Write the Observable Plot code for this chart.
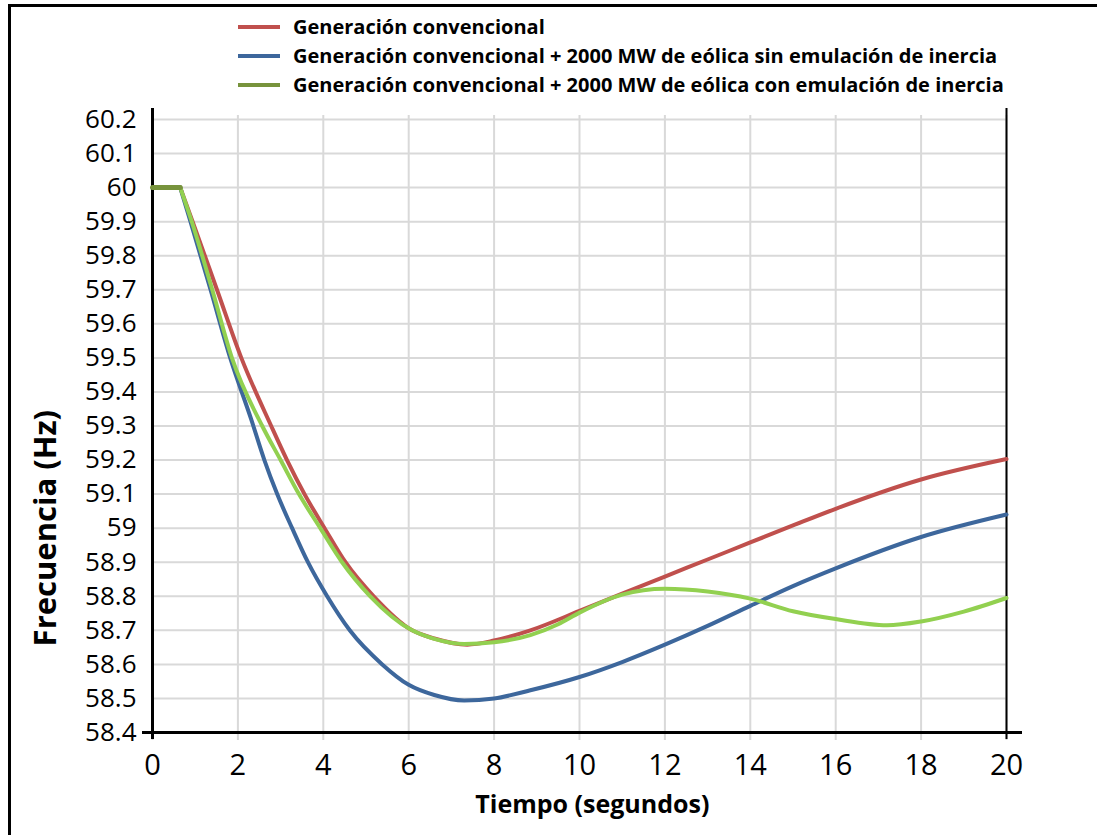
<!DOCTYPE html>
<html>
<head>
<meta charset="utf-8">
<script src="https://cdn.jsdelivr.net/npm/d3@7"></script>
<script src="https://cdn.jsdelivr.net/npm/@observablehq/plot@0.6"></script>
<style>
  html, body { margin: 0; padding: 0; background: #fff; }
  #page { position: relative; width: 1097px; height: 835px; overflow: hidden; background: #fff; }
  #frame { position: absolute; left: 8px; top: 4px; width: 1200px; height: 900px; border-left: 3px solid #000; border-top: 3px solid #000; }
  #legend { position: absolute; left: 238px; top: 12px; font-family: "Open Sans", sans-serif; font-weight: bold; font-size: 20px; color: #000; }
  .row { height: 29px; display: flex; align-items: center; white-space: nowrap; }
  .sw { width: 42px; height: 4px; margin-right: 13px; }
  #chart { position: absolute; left: 0; top: 100px; }
</style>
</head>
<body>
<div id="page">
  <div id="frame"></div>
  <div id="legend"></div>
  <div id="chart"></div>
</div>
<script>
// ---- data ----
const seriesNames = [
  "Generación convencional",
  "Generación convencional + 2000 MW de eólica sin emulación de inercia",
  "Generación convencional + 2000 MW de eólica con emulación de inercia"
];
const lineColors = ["#c0504d", "#3d679c", "#92d050"];
const swatchColors = ["#c0504d", "#3d679c", "#77933c"];

const redT = [0, 0.65, 0.94, 1.51, 2.08, 2.78, 3.15, 3.56, 4.03, 4.52, 5.18, 6.08, 6.6, 7.37, 8, 8.85, 10, 11, 12, 13, 14, 15, 16, 18, 20];
const redF = [60, 60, 59.9, 59.7, 59.5, 59.3, 59.2, 59.1, 59.0, 58.9, 58.8, 58.7, 58.676, 58.658, 58.67, 58.70, 58.757, 58.808, 58.858, 58.908, 58.958, 59.008, 59.057, 59.143, 59.203];

const blueT = [0, 0.65, 0.89, 1.36, 1.82, 2.31, 2.62, 2.92, 3.27, 3.64, 4.09, 4.62, 5.38, 6, 6.6, 7.3, 8, 8.85, 10, 11, 12, 13, 14, 15, 16, 18, 20];
const blueF = [60, 60, 59.9, 59.7, 59.5, 59.32, 59.2, 59.1, 59.0, 58.9, 58.8, 58.7, 58.6, 58.54, 58.51, 58.494, 58.50, 58.524, 58.563, 58.607, 58.658, 58.713, 58.772, 58.830, 58.882, 58.974, 59.04];

const greenT = [0, 0.65, 0.92, 1.40, 1.86, 2.57, 3.0, 3.43, 3.93, 4.44, 5.1, 6.08, 6.6, 7.3, 8, 8.85, 9.5, 10, 11, 12, 13, 14, 15, 16, 17.2, 18, 19, 20];
const greenF = [60, 60, 59.9, 59.7, 59.5, 59.3, 59.2, 59.1, 59.0, 58.9, 58.8, 58.7, 58.675, 58.66, 58.665, 58.686, 58.718, 58.752, 58.805, 58.822, 58.814, 58.793, 58.756, 58.733, 58.715, 58.726, 58.755, 58.795];

const xTicks = [0, 2, 4, 6, 8, 10, 12, 14, 16, 18, 20];
const yTicks = [58.4, 58.5, 58.6, 58.7, 58.8, 58.9, 59, 59.1, 59.2, 59.3, 59.4, 59.5, 59.6, 59.7, 59.8, 59.9, 60, 60.1, 60.2];
const xLabel = "Tiempo (segundos)";
const yLabel = "Frecuencia (Hz)";
const flatEnd = 0.65;

// ---- build tables ----
function toRows(ts, fs, s) { return ts.map((t, i) => ({t, f: fs[i], s})); }
const allSeries = [toRows(redT, redF, 0), toRows(blueT, blueF, 1), toRows(greenT, greenF, 2)];
const dropRows = allSeries.map(rows => rows.filter(d => d.t >= flatEnd));
const flatRows = allSeries[2].filter(d => d.t <= flatEnd);

// ---- legend ----
const legend = document.getElementById("legend");
seriesNames.forEach((name, i) => {
  const row = document.createElement("div");
  row.className = "row";
  const sw = document.createElement("div");
  sw.className = "sw";
  sw.style.background = swatchColors[i];
  const tx = document.createElement("span");
  tx.textContent = name;
  row.appendChild(sw); row.appendChild(tx);
  legend.appendChild(row);
});

// ---- chart ----
const chart = Plot.plot({
  width: 1097,
  height: 735,
  marginLeft: 152,
  marginRight: 91,
  marginTop: 19,
  marginBottom: 103,
  style: { fontFamily: "Open Sans, sans-serif", color: "#000", background: "transparent" },
  x: { domain: [0, 20] },
  y: { domain: [58.4, 60.2] },
  marks: [
    Plot.ruleX(xTicks, { stroke: "#d9d9d9", strokeWidth: 2, insetTop: -4, insetBottom: -8 }),
    Plot.ruleY(yTicks, { stroke: "#d9d9d9", strokeWidth: 2, insetRight: 0 }),
    Plot.axisX(xTicks, { tickSize: 0, tickPadding: 22, fontSize: 29, fill: "#000", label: null }),
    Plot.axisY(yTicks, { tickSize: 0, tickPadding: 16, fontSize: 26, fill: "#000", label: null,
      tickFormat: d => String(+d.toFixed(1)) }),
    Plot.ruleX([0], { stroke: "#000", strokeWidth: 3, insetTop: -11, insetBottom: -7 }),
    Plot.ruleX([20], { stroke: "#000", strokeWidth: 2, insetTop: -11, insetBottom: -7 }),
    Plot.ruleY([58.4], { stroke: "#000", strokeWidth: 3, insetLeft: -10, insetRight: -16 }),
    Plot.line(dropRows[0], { x: "t", y: "f", stroke: lineColors[0], strokeWidth: 4, curve: "monotone-x" }),
    Plot.line(dropRows[1], { x: "t", y: "f", stroke: lineColors[1], strokeWidth: 4, curve: "monotone-x" }),
    Plot.line(dropRows[2], { x: "t", y: "f", stroke: lineColors[2], strokeWidth: 4, curve: "monotone-x" }),
    Plot.line(flatRows, { x: "t", y: "f", stroke: swatchColors[2], strokeWidth: 5 }),
    Plot.text([xLabel], { x: () => 10.3, y: () => 58.4, dy: 72, fontSize: 25, fontWeight: "bold", fill: "#000" }),
    Plot.text([yLabel], { x: () => -2.5, y: () => 59.0, rotate: -90, fontSize: 31, fontWeight: "bold", fill: "#000" })
  ]
});
document.getElementById("chart").appendChild(chart);
</script>
</body>
</html>
